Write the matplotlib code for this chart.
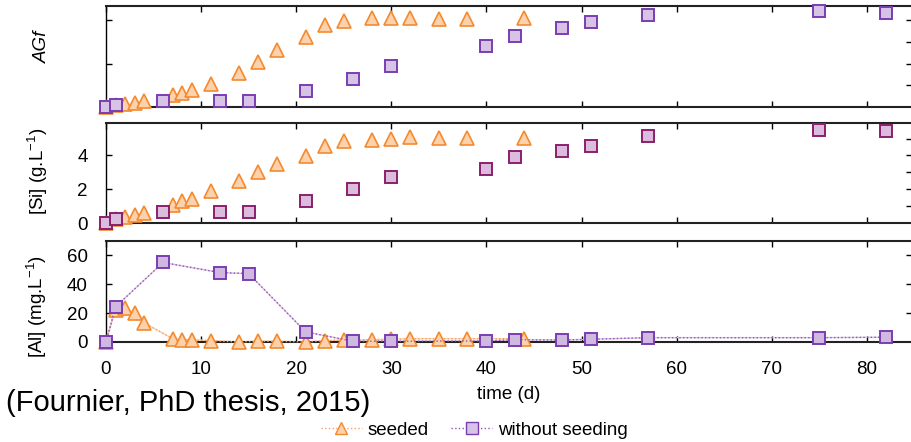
import matplotlib
matplotlib.use('Agg')
import matplotlib.pyplot as plt
from matplotlib.lines import Line2D

plt.rcParams['font.family'] = ['Liberation Sans', 'DejaVu Sans']
plt.rcParams['mathtext.fontset'] = 'custom'
plt.rcParams['mathtext.rm'] = 'Liberation Sans'
plt.rcParams['mathtext.it'] = 'Liberation Sans:italic'

# time (days) for each series
t_seeded = [0, 1, 2, 3, 4, 7, 8, 9, 11, 14, 16, 18, 21, 23, 25, 28, 30, 32, 35, 38, 44]
t_unseeded = [0, 1, 6, 12, 15, 21, 26, 30, 40, 43, 48, 51, 57, 75, 82]

# AGf (arbitrary units, no scale labels in the original)
agf_seeded = [0, 0.08, 0.15, 0.18, 0.28, 0.54, 0.65, 0.77, 1.05, 1.57, 2.08, 2.62,
              3.23, 3.77, 3.97, 4.12, 4.12, 4.08, 4.03, 4.05, 4.12]
agf_unseeded = [0, 0.09, 0.28, 0.28, 0.28, 0.72, 1.29, 1.91, 2.8, 3.28, 3.66, 3.91,
                4.22, 4.42, 4.32]

# [Si] in g/L
si_seeded = [0, 0.22, 0.35, 0.49, 0.61, 1.08, 1.32, 1.44, 1.87, 2.46, 3.01, 3.51,
             3.96, 4.55, 4.83, 4.93, 4.95, 5.07, 5.03, 5.03, 5.03]
si_unseeded = [0, 0.22, 0.65, 0.65, 0.65, 1.32, 1.99, 2.70, 3.21, 3.92, 4.24, 4.57,
               5.14, 5.50, 5.44]

# [Al] in mg/L
al_seeded = [0, 22.5, 23.3, 19.8, 13.3, 2.3, 1.6, 1.6, 0.9, 0, 0.5, 0.5,
             0, 0.9, 1.4, 1.6, 1.9, 2.3, 2.3, 2.3, 2.3]
al_unseeded = [0, 24.4, 55.1, 48.1, 47.4, 7.0, 0.5, 0.5, 0.7, 1.6, 1.4, 1.9,
               3.0, 3.0, 3.3]

orange = '#f5892e'
orange_fill = '#fcd2ac'
purple = '#7a3db2'
purple_fill = '#d6c3e6'
plum = '#8a1f6d'
plum_fill = '#dcbcdc'

fig = plt.figure(figsize=(9.12, 4.42), dpi=100)
left = 106 / 912
w = 1 - left
ax1 = fig.add_axes([left, 1 - 107 / 442, w, 101 / 442])
ax2 = fig.add_axes([left, 1 - 223 / 442, w, 100 / 442])
ax3 = fig.add_axes([left, 1 - 342 / 442, w, 101 / 442])

tri = dict(marker='^', ms=10.5, mec=orange, mfc=orange_fill, mew=1.2, clip_on=False)

def sq(ec, fc):
    return dict(marker='s', ms=8.5, mec=ec, mfc=fc, mew=1.4, clip_on=False)

ax1.plot(t_seeded, agf_seeded, ls='none', zorder=4, **tri)
ax1.plot(t_unseeded, agf_unseeded, ls='none', zorder=5, **sq(purple, purple_fill))

ax2.plot(t_seeded, si_seeded, ls='none', zorder=4, **tri)
ax2.plot(t_unseeded, si_unseeded, ls='none', zorder=5, **sq(plum, plum_fill))

# Al panel: faint solid line plus dotted line
ax3.plot(t_seeded, al_seeded, ls='-', lw=1, color='#fbd6b4', zorder=2)
ax3.plot(t_seeded, al_seeded, ls=':', lw=1, color='#f5a060', zorder=4, **tri)
ax3.plot(t_unseeded, al_unseeded, ls='-', lw=1, color='#dcc0e4', zorder=2)
ax3.plot(t_unseeded, al_unseeded, ls=':', lw=1, color='#9255b8', zorder=5,
         **sq(purple, '#cfb9e0'))

ax1.set_ylim(0, 4.65)
ax2.set_ylim(0, 5.92)
ax3.set_ylim(0, 70)

for ax in (ax1, ax2, ax3):
    ax.set_xlim(0, 84.75)
    ax.set_xticks(range(0, 90, 10))
    ax.tick_params(direction='in', length=4, width=1, top=True, labelsize=13.5)
    ax.tick_params(axis='y', pad=13)
    ax.spines['right'].set_visible(False)
    for s in ('top', 'bottom'):
        ax.spines[s].set_linewidth(1.5)
        ax.spines[s].set_color('#222222')
    ax.spines['left'].set_linewidth(1)
    ax.set_facecolor('none')

ax1.set_yticks([0, 2, 4])
ax1.set_yticklabels([])
ax1.set_xticklabels([])
ax2.set_yticks([0, 2, 4])
ax2.set_xticklabels([])
ax3.set_yticks([0, 20, 40, 60])
ax3.tick_params(axis='x', pad=13.5)

# mirrored ticks on the right edge
for ax, ticks in ((ax1, [1, 2, 3, 4]), (ax2, [1, 2, 3, 4, 5]), (ax3, [20, 40, 60])):
    tw = ax.twinx()
    tw.set_ylim(ax.get_ylim())
    tw.set_yticks(ticks)
    tw.set_yticklabels([])
    tw.tick_params(direction='in', length=4, width=1, right=True)
    for s in tw.spines.values():
        s.set_visible(False)

ax1.set_ylabel('AGf', fontsize=13.5, fontstyle='italic')
ax1.yaxis.set_label_coords(-0.068, 0.6)
ax2.set_ylabel(r'[Si] (g.L$^{\mathregular{-1}}$)', fontsize=13.5)
ax2.yaxis.set_label_coords(-0.070, 0.52)
ax3.set_ylabel(r'[Al] (mg.L$^{\mathregular{-1}}$)', fontsize=13.5)
ax3.yaxis.set_label_coords(-0.071, 0.35)
ax3.set_xlabel('time (d)', fontsize=13.5, labelpad=6)

fig.text(6 / 912, 1 - 403 / 442, '(Fournier, PhD thesis, 2015)', fontsize=21,
         va='center', ha='left')

handles = [
    Line2D([], [], ls=':', lw=1, color='#f5a060', marker='^', ms=9, mec=orange, mfc=orange_fill),
    Line2D([], [], ls=':', lw=1, color='#9255b8', marker='s', ms=8, mec=purple, mfc=purple_fill),
]
fig.legend(handles, ['seeded', 'without seeding'], loc='center', ncol=2,
           bbox_to_anchor=(0.52, 1 - 430 / 442), frameon=False, fontsize=13.5,
           handlelength=2.2, handletextpad=0.3, columnspacing=1.2)

fig.savefig('out.png', dpi=100)
